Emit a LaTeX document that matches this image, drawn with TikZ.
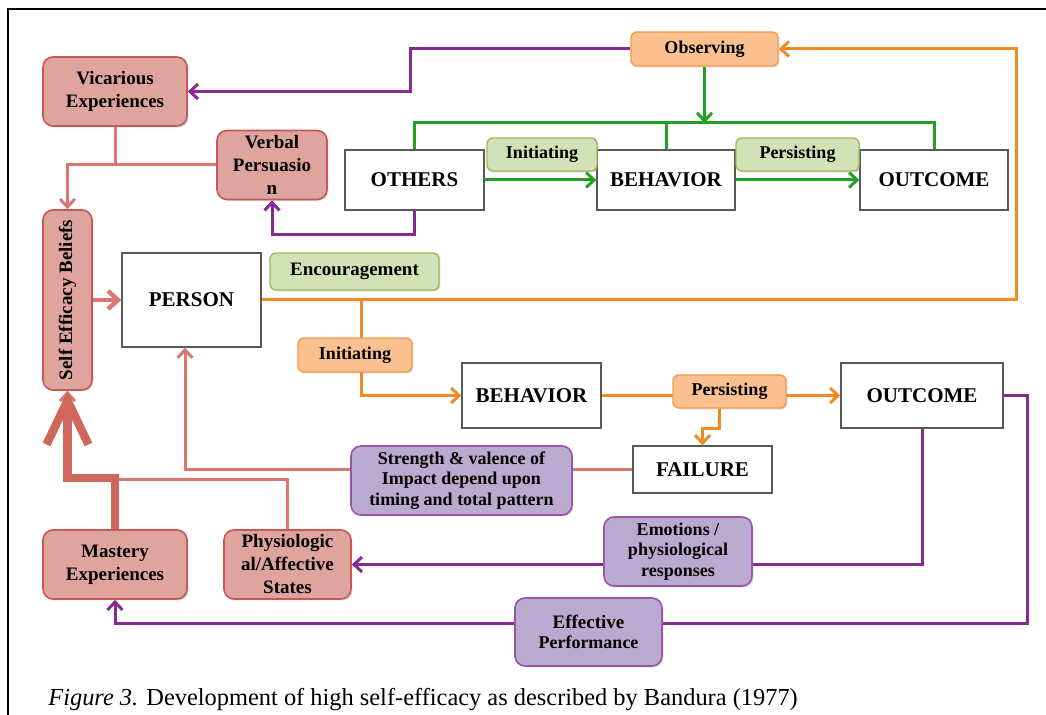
\documentclass[tikz,border=0pt]{standalone}
\usepackage{fontspec}
\setmainfont{Liberation Serif}
\usetikzlibrary{arrows.meta,backgrounds,shadows}
\definecolor{redfill}{HTML}{E0A49F}
\definecolor{reddraw}{HTML}{C45A55}
\definecolor{redline}{HTML}{D97870}
\definecolor{redthick}{HTML}{D0665C}
\definecolor{orgfill}{HTML}{FAC090}
\definecolor{orgdraw}{HTML}{F59A4A}
\definecolor{orgline}{HTML}{F28A24}
\definecolor{grnfill}{HTML}{D3E1B6}
\definecolor{grndraw}{HTML}{9BBB59}
\definecolor{grnline}{HTML}{22A022}
\definecolor{purfill}{HTML}{BBAACF}
\definecolor{purdraw}{HTML}{9A55A8}
\definecolor{purline}{HTML}{842A90}

\begin{document}
\begin{tikzpicture}[x=0.5pt,y=-0.5pt,
        every node/.style={align=center,inner sep=1pt},
        shade/.style={drop shadow={shadow xshift=0.7pt,shadow yshift=-0.7pt,opacity=0.3}},
        box/.style={draw=gray!70!black,fill=white,line width=0.7pt,shade,font=\fontsize{10.5}{12}\selectfont\bfseries},
        redbox/.style={draw=reddraw,fill=redfill,rounded corners=5pt,line width=0.8pt,shade,font=\fontsize{9.5}{11.5}\selectfont\bfseries},
        orglab/.style={draw=orgdraw,fill=orgfill,rounded corners=3pt,line width=0.7pt,shade,font=\fontsize{9}{11}\selectfont\bfseries},
        grnlab/.style={draw=grndraw,fill=grnfill,rounded corners=3pt,line width=0.7pt,shade,font=\fontsize{9}{11}\selectfont\bfseries},
        purbox/.style={draw=purdraw,fill=purfill,rounded corners=5pt,line width=0.8pt,shade,font=\fontsize{9}{10.3}\selectfont\bfseries},
        arr/.style={-{Straight Barb[length=4pt,width=7.5pt]}},
        rline/.style={draw=redline,line width=1.5pt},
        oline/.style={draw=orgline,line width=1.5pt},
        gline/.style={draw=grnline,line width=1.5pt},
        pline/.style={draw=purline,line width=1.5pt}]
    \useasboundingbox (0,0) rectangle (1046,715);
    \draw[line width=1.4pt] (8,715) -- (8,9) -- (1046,9);

    % left column
    \node[redbox,minimum width=72pt,minimum height=34.5pt] (vic) at (115,91.5) {Vicarious\\Experiences};
    \node[redbox,minimum width=55pt,minimum height=34.5pt] (verbal) at (272,165) {Verbal\\Persuasio\\n};
    \node[redbox,minimum width=24.5pt,minimum height=90pt] (self) at (67.5,300) {\rotatebox{90}{Self Efficacy Beliefs}};
    \node[redbox,minimum width=72pt,minimum height=34.5pt] (mastery) at (115,564.5) {Mastery\\Experiences};
    \node[redbox,minimum width=63.5pt,minimum height=34.5pt] (phys) at (287.5,564.5) {Physiologic\\al/Affective\\States};

    % top row
    \node[box,minimum width=69.5pt,minimum height=47pt] (person) at (191.5,300) {PERSON};
    \node[box,minimum width=69.5pt,minimum height=30pt] (others) at (414.5,180) {OTHERS};
    \node[box,minimum width=69pt,minimum height=30pt] (beh1) at (666,180) {BEHAVIOR};
    \node[box,minimum width=74pt,minimum height=30pt] (out1) at (934,180) {OUTCOME};
    \node[orglab,minimum width=73.5pt,minimum height=17pt] (obs) at (704.5,49) {Observing};
    \node[grnlab,minimum width=55pt,minimum height=16.5pt] (init1) at (542,154.5) {Initiating};
    \node[grnlab,minimum width=61.5pt,minimum height=16.5pt] (pers1) at (797.5,154.5) {Persisting};
    \node[grnlab,minimum width=84.5pt,minimum height=18.5pt] (enc) at (354.5,271.5) {\fontsize{9.5}{11}\selectfont Encouragement};

    % bottom row
    \node[orglab,minimum width=57pt,minimum height=17pt] (init2) at (355,355) {Initiating};
    \node[box,minimum width=69.5pt,minimum height=32.5pt] (beh2) at (531.5,395.5) {BEHAVIOR};
    \node[orglab,minimum width=56.5pt,minimum height=16.5pt] (pers2) at (729.5,391.5) {Persisting};
    \node[box,minimum width=81pt,minimum height=32.5pt] (out2) at (922,395.5) {OUTCOME};
    \node[box,minimum width=69.5pt,minimum height=23.5pt] (fail) at (702.5,469.5) {FAILURE};
    \node[purbox,minimum width=110.5pt,minimum height=34.5pt] (strength) at (461.5,480.5) {Strength \& valence of\\Impact depend upon\\timing and total pattern};
    \node[purbox,minimum width=74pt,minimum height=34.5pt] (emo) at (678,551.5) {Emotions /\\physiological\\responses};
    \node[purbox,minimum width=73.5pt,minimum height=34pt] (eff) at (588.5,632) {\fontsize{9.5}{11.5}\selectfont Effective\\Performance};

    \node[anchor=base west,font=\fontsize{12.2}{14}\selectfont] (caption) at (46,706)
        {\textit{Figure 3.} Development of high self-efficacy as described by Bandura (1977)};

    \begin{scope}[on background layer]
        % red
        \draw[rline,arr] (vic.south) -- (115,165) -| (self.north);
        \draw[rline] (verbal.west) -- (115,165);
        \draw[rline,line width=2.2pt,-{Straight Barb[length=5pt,width=9pt]}] (self.east) -- (person.west);
        \draw[rline,arr] (strength.west |- fail.west) -| ([xshift=-3.25pt]person.south);
        \draw[rline] (fail.west) -- (strength.east |- fail.west);
        \draw[rline,arr] (phys.north) |- (67.5,480) -- (self.south);
        \draw[draw=redthick,line width=4.2pt,-{Straight Barb[length=22pt,width=21pt,line width=4.2pt]}]
            (mastery.north) |- (67.5,478) -- (self.south);
        % orange
        \draw[oline,arr] (person.east) -- (1016,300) |- (obs.east);
        \draw[oline,arr] (361,300) |- (beh2.west);
        \draw[oline,arr] (beh2.east) -- (out2.west);
        \draw[oline,arr] ([xshift=-5pt]pers2.south) -- ++(0,-10pt) -| (fail.north);
        % green
        \draw[gline,arr] (obs.south) -- (704.5,123);
        \draw[gline] (others.north) |- (934,123) -- (out1.north);
        \draw[gline] (beh1.north) -- (666,123);
        \draw[gline,arr] (others.east) -- (beh1.west);
        \draw[gline,arr] (beh1.east) -- (out1.west);
        % purple
        \draw[pline,arr] (obs.west) -| (410,91.5) -- (vic.east);
        \draw[pline,arr] (others.south) |- (272,235) -- (verbal.south);
        \draw[pline,arr] (out2.east) -- (1027,395.5) |- (115,624) -- (mastery.south);
        \draw[pline,arr] (out2.south) |- (phys.east);
    \end{scope}
\end{tikzpicture}
\end{document}
